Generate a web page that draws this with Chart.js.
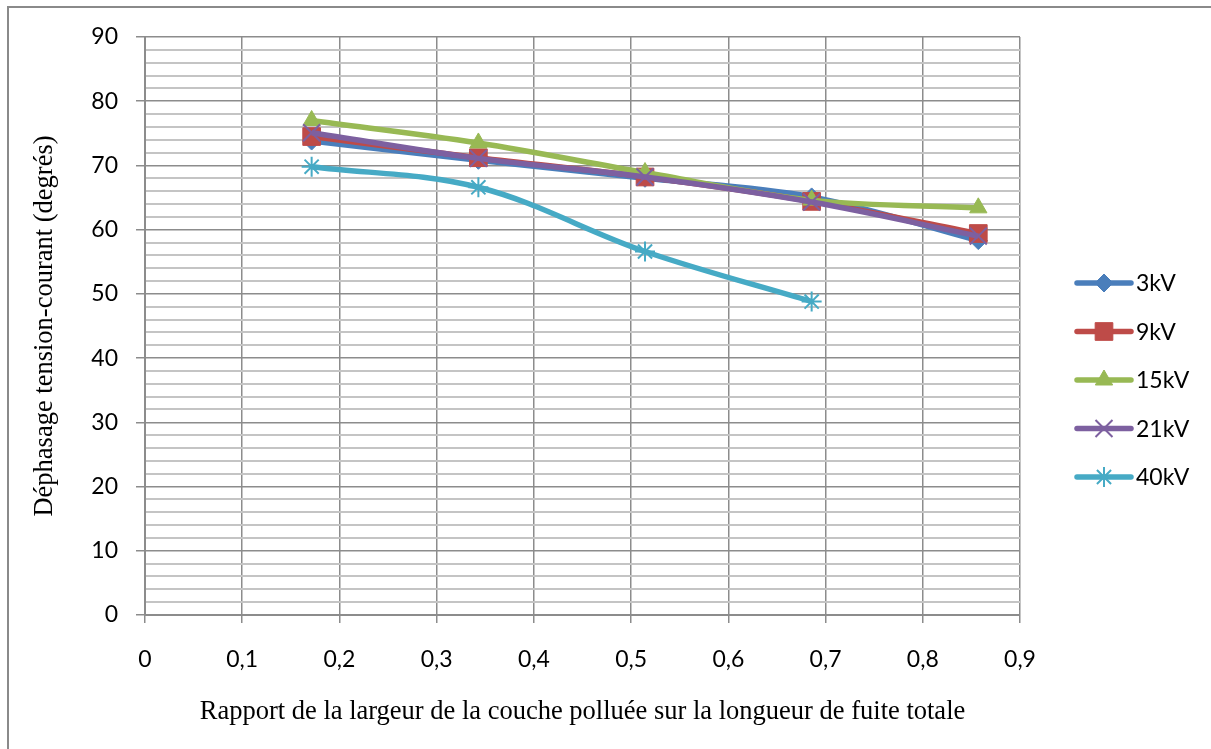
<!DOCTYPE html>
<html>
<head>
<meta charset="utf-8">
<script src="https://cdn.jsdelivr.net/npm/chart.js@4/dist/chart.umd.min.js"></script>
<style>
  html, body { margin: 0; padding: 0; background: #fff; }
  #wrap { width: 1211px; height: 749px; }
</style>
</head>
<body>
<div id="wrap"><canvas id="phaseChart" width="1211" height="749"></canvas></div>
<script>
// ==================== DATA ====================
const ratios = [0.1714, 0.3429, 0.5143, 0.6857, 0.8571];
const seriesNames = ['3kV', '9kV', '15kV', '21kV', '40kV'];
const phase3kV = [73.8, 70.8, 68.0, 65.1, 58.3];
const phase9kV = [74.5, 71.2, 68.2, 64.4, 59.4];
const phase15kV = [77.0, 73.5, 68.9, 64.6, 63.4];
const phase21kV = [75.1, 71.1, 68.2, 64.3, 59.0];
const phase40kV = [69.8, 66.6, 56.6, 48.8];

const yTitle = 'Déphasage tension-courant (degrés)';
const xTitle = 'Rapport de la largeur de la couche polluée sur la longueur de fuite totale';

// ==================== STYLE ====================
const colors = ['#4A7EBB', '#BE4B48', '#98B954', '#7D60A0', '#46AAC5'];
const markers = [
  { style: 'rectRot', radius: 9, border: 1 },
  { style: 'rect', radius: 12.5, border: 1 },
  { style: 'triangle', radius: 10, border: 1 },
  { style: 'crossRot', radius: 12, border: 2 },
  { style: 'star', radius: 10, border: 2 }
];
const tickFont = { family: 'Lato, "Open Sans", sans-serif', size: 23 };
const titleFont = { family: '"Liberation Serif", "Times New Roman", serif', size: 26.5 };

const seriesValues = [phase3kV, phase9kV, phase15kV, phase21kV, phase40kV];

function buildDatasets() {
  return seriesNames.map((name, i) => ({
    label: name,
    data: seriesValues[i].map((v, j) => ({ x: ratios[j], y: v })),
    borderColor: colors[i],
    backgroundColor: colors[i],
    borderWidth: 5.5,
    tension: 0.35,
    pointStyle: markers[i].style,
    pointRadius: markers[i].radius,
    pointBorderWidth: markers[i].border,
    pointBorderColor: colors[i],
    pointBackgroundColor: colors[i],
    order: seriesNames.length - 1 - i   // last series drawn on top
  }));
}

// frame around the chart (only top and left edges visible)
const framePlugin = {
  id: 'frame',
  beforeDraw(chart) {
    const ctx = chart.ctx;
    ctx.save();
    ctx.fillStyle = '#fff';
    ctx.fillRect(0, 0, chart.width, chart.height);
    ctx.strokeStyle = '#8a8a8a';
    ctx.lineWidth = 2;
    ctx.beginPath();
    ctx.moveTo(8, chart.height + 5);
    ctx.lineTo(8, 7);
    ctx.lineTo(chart.width + 5, 7);
    ctx.stroke();
    ctx.restore();
  }
};

// legend: line + marker, like the spreadsheet one
const legendPlugin = {
  id: 'sideLegend',
  afterDraw(chart) {
    const ctx = chart.ctx;
    const x0 = 1077, x1 = 1131, xm = 1104, tx = 1136;
    const top = 283, step = 48.5;
    ctx.save();
    chart.data.datasets.forEach((ds, i) => {
      const y = top + i * step;
      ctx.strokeStyle = ds.borderColor;
      ctx.lineWidth = 5.5;
      ctx.lineCap = 'round';
      ctx.beginPath();
      ctx.moveTo(x0, y);
      ctx.lineTo(x1, y);
      ctx.stroke();
      ctx.lineCap = 'butt';
      ctx.fillStyle = ds.pointBackgroundColor;
      ctx.strokeStyle = ds.pointBorderColor;
      ctx.lineWidth = ds.pointBorderWidth;
      Chart.helpers.drawPoint(ctx, {
        pointStyle: ds.pointStyle,
        rotation: 0,
        radius: ds.pointRadius,
        borderWidth: ds.pointBorderWidth
      }, xm, y);
      ctx.fillStyle = '#000';
      ctx.font = `${tickFont.size}px ${tickFont.family}`;
      ctx.textBaseline = 'middle';
      ctx.textAlign = 'left';
      ctx.fillText(ds.label, tx, y + 1);
    });
    ctx.restore();
  }
};

const ctx = document.getElementById('phaseChart');
new Chart(ctx, {
  type: 'line',
  data: { datasets: buildDatasets() },
  plugins: [framePlugin, legendPlugin],
  options: {
    responsive: false,
    animation: false,
    layout: { padding: { top: 37, right: 191, bottom: 0, left: 0 } },
    plugins: {
      legend: { display: false },
      tooltip: { enabled: false }
    },
    scales: {
      x: {
        type: 'linear',
        min: 0,
        max: 0.9,
        afterFit: s => { s.height = 134; },
        afterBuildTicks: s => {
          s.ticks = [0, 0.1, 0.2, 0.3, 0.4, 0.5, 0.6, 0.7, 0.8, 0.9].map(v => ({ value: v }));
        },
        ticks: {
          color: '#000',
          font: tickFont,
          padding: 23,
          maxRotation: 0,
          autoSkip: false,
          callback: v => v === 0 ? '0' : v.toFixed(1).replace('.', ',')
        },
        grid: { color: '#8c8c8c', lineWidth: 1.5, tickLength: 8, tickColor: '#8c8c8c' },
        border: { color: '#8c8c8c', width: 2 },
        title: { display: true, text: xTitle, color: '#000', font: titleFont, padding: { top: 0, bottom: 21 } }
      },
      y: {
        min: 0,
        max: 90,
        afterFit: s => { s.width = 145; },
        ticks: {
          stepSize: 2,
          color: '#000',
          font: tickFont,
          padding: 18,
          autoSkip: false,
          callback: v => (v % 10 === 0 ? String(v) : '')
        },
        grid: {
          color: c => (c.tick && c.tick.value % 10 === 0 ? '#8c8c8c' : '#c4c4c4'),
          lineWidth: c => (c.tick && c.tick.value % 10 === 0 ? 1.5 : 2),
          tickLength: 9,
          tickColor: c => (c.tick && c.tick.value % 10 === 0 ? '#8c8c8c' : 'rgba(0,0,0,0)')
        },
        border: { color: '#8c8c8c', width: 2 },
        title: { display: true, text: yTitle, color: '#000', font: titleFont, padding: { top: 29, bottom: 0 } }
      }
    }
  }
});
</script>
</body>
</html>
